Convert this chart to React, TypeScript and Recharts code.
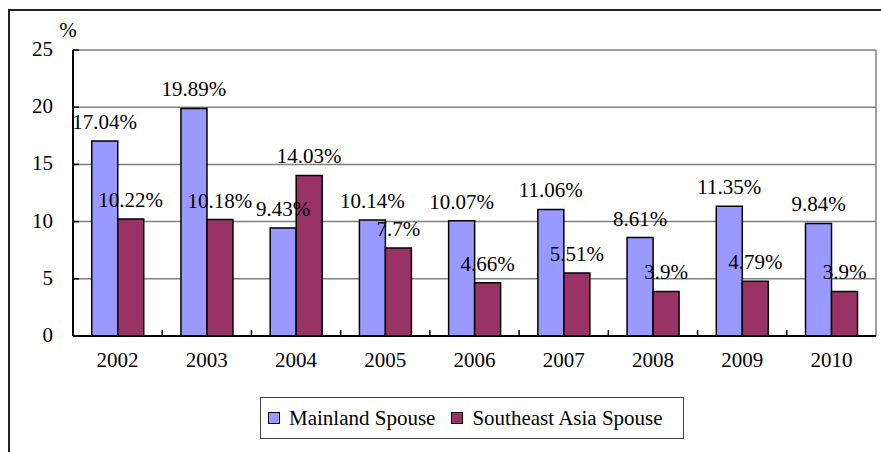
import React from 'react'
import { BarChart, Bar, XAxis, YAxis, CartesianGrid, Legend, LabelList } from 'recharts'

const years = ['2002', '2003', '2004', '2005', '2006', '2007', '2008', '2009', '2010']
const mainland = [17.04, 19.89, 9.43, 10.14, 10.07, 11.06, 8.61, 11.35, 9.84]
const southeastAsia = [10.22, 10.18, 14.03, 7.7, 4.66, 5.51, 3.9, 4.79, 3.9]
const yTicks = [0, 5, 10, 15, 20, 25]

const data = years.map((year, i) => ({
  year,
  mainland: mainland[i],
  southeast: southeastAsia[i],
}))

const FONT = '"Liberation Serif", "Times New Roman", serif'
const FS = 21
const PLOT_W = 803
const BAND = PLOT_W / years.length

const XTick = (props: any) => {
  const { x, y, payload } = props
  const left = x - BAND / 2
  return (
    <g>
      <line x1={left} y1={y} x2={left} y2={y - 6} stroke="#000" strokeWidth={1.5} />
      <text x={x} y={y + 31} textAnchor="middle" fontFamily={FONT} fontSize={FS} fill="#000">
        {payload.value}
      </text>
    </g>
  )
}

const YTick = (props: any) => {
  const { x, y, payload } = props
  return (
    <g>
      <line x1={x} y1={y} x2={x + 6} y2={y} stroke="#000" strokeWidth={1.5} />
      <text x={x - 20} y={y + 6} textAnchor="end" fontFamily={FONT} fontSize={FS} fill="#000">
        {payload.value}
      </text>
    </g>
  )
}

const ValueLabel = (props: any) => {
  const { x, y, width, value } = props
  return (
    <text x={x + width / 2} y={y - 12} textAnchor="middle" fontFamily={FONT} fontSize={FS} fill="#000">
      {`${value}%`}
    </text>
  )
}

const LegendBox = () => (
  <div
    style={{
      boxSizing: 'border-box',
      width: 424,
      height: 42,
      border: '1.5px solid #444',
      background: '#fff',
      display: 'flex',
      alignItems: 'center',
      paddingLeft: 7,
      fontFamily: FONT,
      fontSize: FS,
      color: '#000',
    }}
  >
    <span style={{ display: 'inline-block', width: 10, height: 10, border: '1.5px solid #000', background: '#9999FF', marginRight: 9 }} />
    <span style={{ marginRight: 16 }}>Mainland Spouse</span>
    <span style={{ display: 'inline-block', width: 10, height: 10, border: '1.5px solid #000', background: '#993366', marginRight: 9 }} />
    <span>Southeast Asia Spouse</span>
  </div>
)

export default function App() {
  return (
    <div style={{ position: 'absolute', left: 0, top: 0, width: 881, height: 452, background: '#fff' }}>
      <div
        style={{
          position: 'absolute',
          left: 8,
          top: 9,
          width: 873,
          height: 443,
          borderLeft: '2px solid #222',
          borderTop: '2px solid #222',
        }}
      />
      <BarChart
        width={881}
        height={452}
        data={data}
        margin={{ top: 50, right: 5, bottom: 86, left: 13 }}
        barCategoryGap="21%"
        barGap={0}
      >
        <CartesianGrid
          stroke="#808080"
          strokeWidth={1.5}
          verticalCoordinatesGenerator={({ offset }: any) => [offset.left + offset.width]}
        />
        <XAxis
          dataKey="year"
          axisLine={{ stroke: '#000', strokeWidth: 2 }}
          tickLine={false}
          tickSize={0}
          tickMargin={0}
          height={30}
          tick={<XTick />}
          interval={0}
        />
        <YAxis
          domain={[0, 25]}
          ticks={yTicks}
          width={60}
          axisLine={{ stroke: '#000', strokeWidth: 2 }}
          tickLine={false}
          tickSize={0}
          tickMargin={0}
          tick={<YTick />}
          label={{
            value: '%',
            content: ({ viewBox }: any) => (
              <text x={viewBox.x + viewBox.width - 5} y={viewBox.y - 13} textAnchor="middle" fontFamily={FONT} fontSize={FS} fill="#000">
                %
              </text>
            ),
          }}
        />
        <Legend
          layout="horizontal"
          verticalAlign="middle"
          align="center"
          wrapperStyle={{ top: 397, left: 260, width: 424, height: 42 }}
          content={() => <LegendBox />}
        />
        <Bar dataKey="mainland" name="Mainland Spouse" fill="#9999FF" stroke="#000" strokeWidth={1.5} isAnimationActive={false}>
          <LabelList dataKey="mainland" content={<ValueLabel />} />
        </Bar>
        <Bar dataKey="southeast" name="Southeast Asia Spouse" fill="#993366" stroke="#000" strokeWidth={1.5} isAnimationActive={false}>
          <LabelList dataKey="southeast" content={<ValueLabel />} />
        </Bar>
      </BarChart>
    </div>
  )
}
